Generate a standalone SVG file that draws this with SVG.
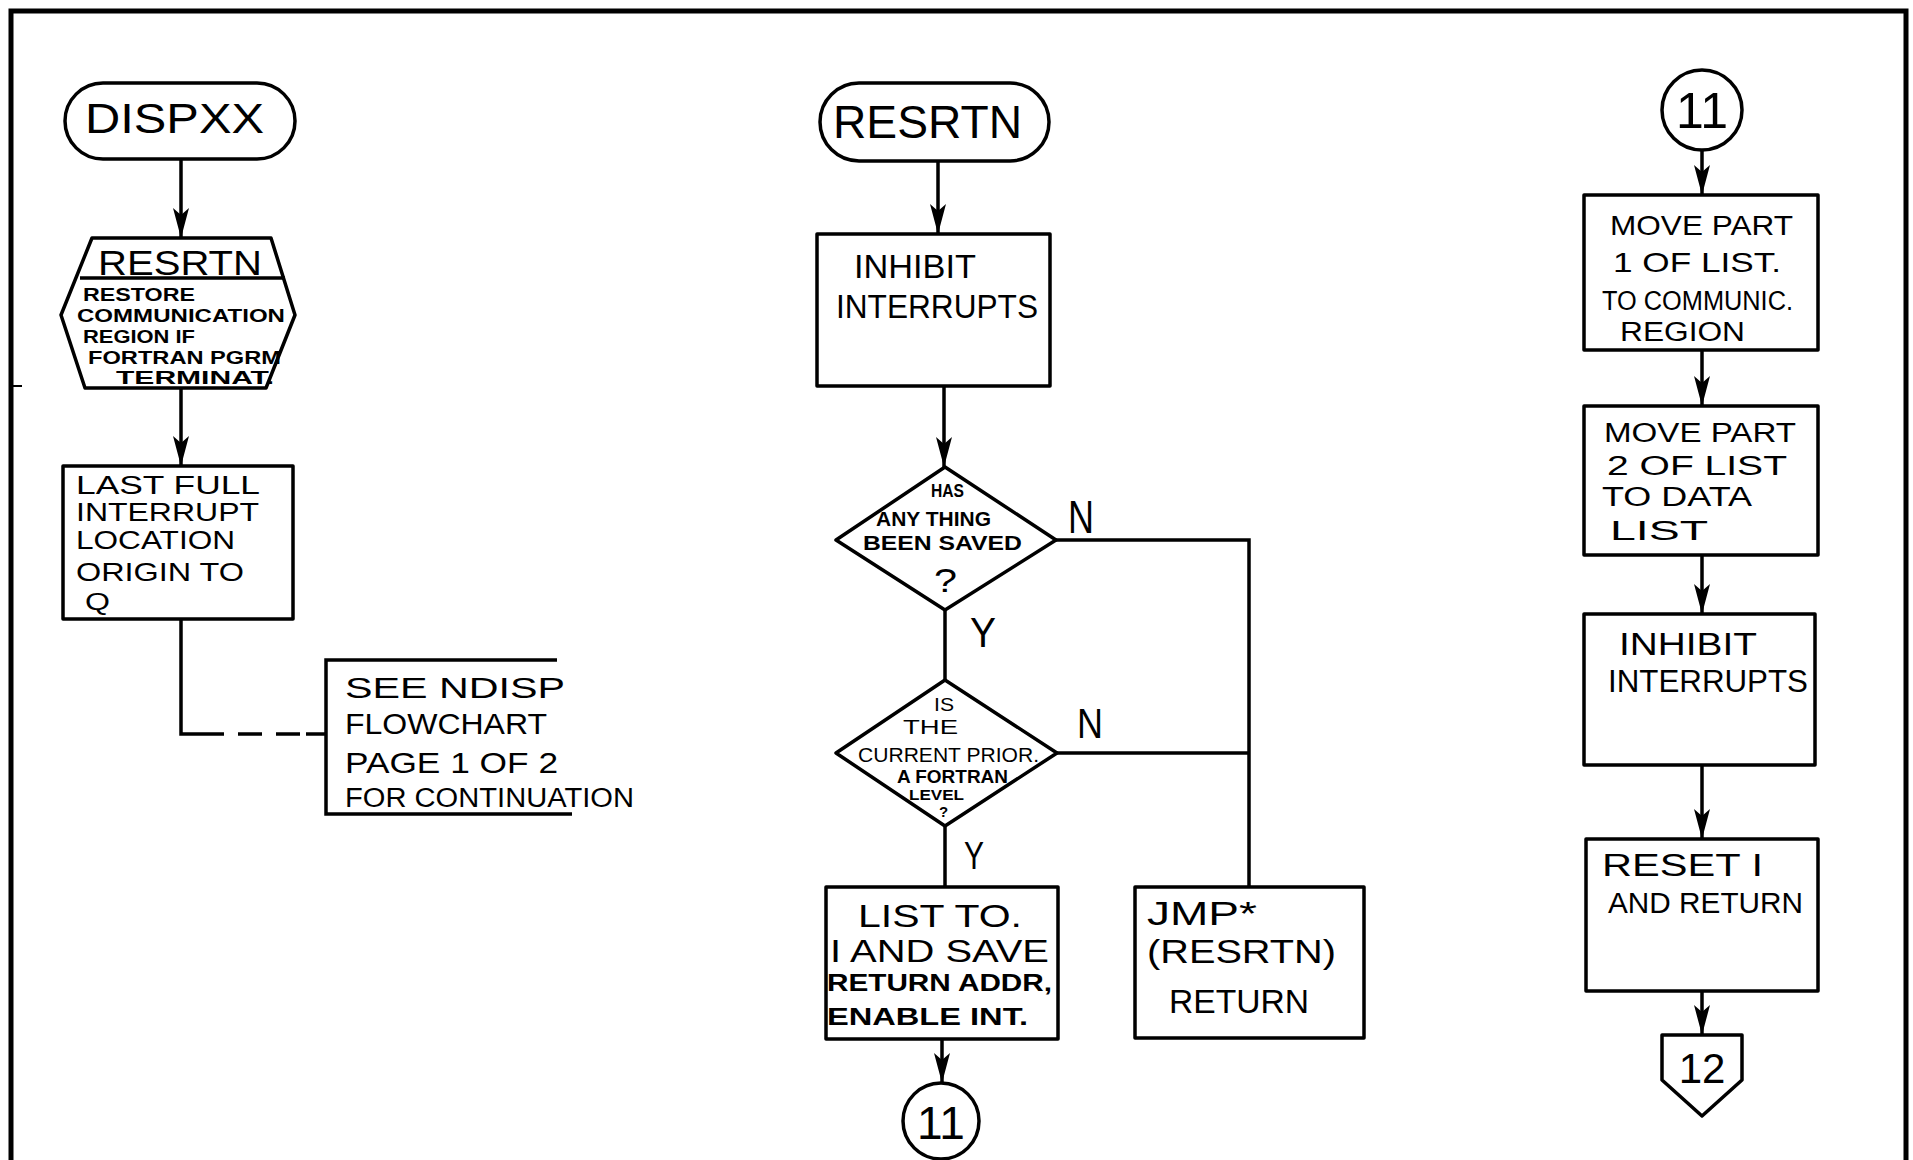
<svg xmlns="http://www.w3.org/2000/svg" width="1913" height="1160" viewBox="0 0 1913 1160">
<defs>
<marker id="ah" viewBox="0 0 30 16" refX="30" refY="8" markerWidth="30" markerHeight="16" markerUnits="userSpaceOnUse" orient="auto">
<path d="M0,0 L30,8 L0,16 L7,8 Z" fill="#000"/>
</marker>
<style>
.s{fill:#fff;stroke:#000;stroke-width:3.5;stroke-linejoin:round}
.l{fill:none;stroke:#000;stroke-width:3.5}
.a{fill:none;stroke:#000;stroke-width:3.5;marker-end:url(#ah)}
.d{fill:none;stroke:#000;stroke-width:3.5;stroke-dasharray:24 14}
.t{font-family:"Liberation Sans",Arial,sans-serif;fill:#000}
.b{font-family:"Liberation Sans",Arial,sans-serif;fill:#000;font-weight:bold}
</style>
</defs>
<rect width="1913" height="1160" fill="#fff"/>
<path class="l" d="M11,1160 L11,11 L1906,11 L1906,1160" style="stroke-width:5"/>
<path class="l" d="M11,386 L22,386" style="stroke-width:2"/>

<g id="connectors">
<path class="a" d="M181,159 L181,238"/>
<path class="a" d="M181,388 L181,466"/>
<path class="l" d="M181,619 L181,734 L200,734"/>
<path class="d" d="M200,734 L310,734"/>
<path class="l" d="M306,734 L326,734"/>
<path class="a" d="M938,161 L938,234"/>
<path class="a" d="M944,386 L944,467"/>
<path class="l" d="M945,610 L945,680"/>
<path class="l" d="M1056,540 L1249,540 L1249,887"/>
<path class="l" d="M1057,753 L1249,753"/>
<path class="l" d="M945,826 L945,887"/>
<path class="a" d="M942,1039 L942,1083"/>
<path class="a" d="M1702,150 L1702,195"/>
<path class="a" d="M1702,350 L1702,406"/>
<path class="a" d="M1702,555 L1702,614"/>
<path class="a" d="M1702,765 L1702,839"/>
<path class="a" d="M1702,991 L1702,1035"/>
</g>

<g id="dispxx">
<rect class="s" x="65" y="83" width="230" height="76" rx="38"/>
<text class="t" x="85" y="133" font-size="43" textLength="179" lengthAdjust="spacingAndGlyphs">DISPXX</text>
</g>

<g id="resrtn-call">
<path class="s" d="M92,238 L271,238 L295,315 L266,388 L85,388 L61,315 Z"/>
<path class="l" d="M80,278 L285,278"/>
<text class="t" x="98" y="275" font-size="35" textLength="164" lengthAdjust="spacingAndGlyphs">RESRTN</text>
<text class="b" x="83" y="301" font-size="18" textLength="112" lengthAdjust="spacingAndGlyphs">RESTORE</text>
<text class="b" x="77" y="322" font-size="18" textLength="208" lengthAdjust="spacingAndGlyphs">COMMUNICATION</text>
<text class="b" x="83" y="343" font-size="18" textLength="112" lengthAdjust="spacingAndGlyphs">REGION IF</text>
<text class="b" x="88" y="364" font-size="18" textLength="193" lengthAdjust="spacingAndGlyphs">FORTRAN PGRM</text>
<text class="b" x="116" y="384" font-size="18" textLength="158" lengthAdjust="spacingAndGlyphs">TERMINAT.</text>
</g>

<g id="last-full">
<rect class="s" x="63" y="466" width="230" height="153"/>
<text class="t" x="76" y="494" font-size="25" textLength="184" lengthAdjust="spacingAndGlyphs">LAST FULL</text>
<text class="t" x="76" y="521" font-size="25" textLength="183" lengthAdjust="spacingAndGlyphs">INTERRUPT</text>
<text class="t" x="76" y="549" font-size="25" textLength="159" lengthAdjust="spacingAndGlyphs">LOCATION</text>
<text class="t" x="76" y="581" font-size="25" textLength="168" lengthAdjust="spacingAndGlyphs">ORIGIN TO</text>
<text class="t" x="85" y="610" font-size="24" textLength="25" lengthAdjust="spacingAndGlyphs">Q</text>
</g>

<g id="see-ndisp">
<path class="l" d="M557,660 L326,660 L326,814 L572,814"/>
<text class="t" x="345" y="698" font-size="30" textLength="220" lengthAdjust="spacingAndGlyphs">SEE NDISP</text>
<text class="t" x="345" y="734" font-size="30" textLength="202" lengthAdjust="spacingAndGlyphs">FLOWCHART</text>
<text class="t" x="345" y="773" font-size="29" textLength="213" lengthAdjust="spacingAndGlyphs">PAGE 1 OF 2</text>
<text class="t" x="345" y="807" font-size="27" textLength="289" lengthAdjust="spacingAndGlyphs">FOR CONTINUATION</text>
</g>

<g id="resrtn">
<rect class="s" x="820" y="83" width="229" height="78" rx="39"/>
<text class="t" x="833" y="138" font-size="46" textLength="189" lengthAdjust="spacingAndGlyphs">RESRTN</text>
</g>

<g id="inhibit-1">
<rect class="s" x="817" y="234" width="233" height="152"/>
<text class="t" x="854" y="278" font-size="33" textLength="122" lengthAdjust="spacingAndGlyphs">INHIBIT</text>
<text class="t" x="836" y="318" font-size="33" textLength="202" lengthAdjust="spacingAndGlyphs">INTERRUPTS</text>
</g>

<g id="saved">
<path class="s" d="M945,467 L1056,540 L945,610 L836,540 Z"/>
<text class="b" x="931" y="497" font-size="18" textLength="33" lengthAdjust="spacingAndGlyphs">HAS</text>
<text class="b" x="876" y="526" font-size="21" textLength="115" lengthAdjust="spacingAndGlyphs">ANY THING</text>
<text class="b" x="863" y="550" font-size="21" textLength="159" lengthAdjust="spacingAndGlyphs">BEEN SAVED</text>
<text class="t" x="934" y="592" font-size="34" textLength="23" lengthAdjust="spacingAndGlyphs">?</text>
</g>
<text class="t" x="1068" y="533" font-size="46" textLength="26" lengthAdjust="spacingAndGlyphs">N</text>
<text class="t" x="970" y="647" font-size="42" textLength="26" lengthAdjust="spacingAndGlyphs">Y</text>

<g id="fortran-level">
<path class="s" d="M945,680 L1057,753 L945,826 L836,753 Z"/>
<text class="t" x="934" y="711" font-size="19" textLength="20" lengthAdjust="spacingAndGlyphs">IS</text>
<text class="t" x="903" y="734" font-size="20" textLength="55" lengthAdjust="spacingAndGlyphs">THE</text>
<text class="t" x="858" y="762" font-size="20" textLength="181" lengthAdjust="spacingAndGlyphs">CURRENT PRIOR.</text>
<text class="b" x="897" y="783" font-size="18" textLength="111" lengthAdjust="spacingAndGlyphs">A FORTRAN</text>
<text class="b" x="909" y="800" font-size="15" textLength="55" lengthAdjust="spacingAndGlyphs">LEVEL</text>
<text class="b" x="939" y="817" font-size="15">?</text>
</g>
<text class="t" x="1077" y="738" font-size="42" textLength="26" lengthAdjust="spacingAndGlyphs">N</text>
<text class="t" x="964" y="869" font-size="38" textLength="20" lengthAdjust="spacingAndGlyphs">Y</text>

<g id="list-to-i">
<rect class="s" x="826" y="887" width="232" height="152"/>
<text class="t" x="858" y="927" font-size="32" textLength="164" lengthAdjust="spacingAndGlyphs">LIST TO.</text>
<text class="t" x="830" y="962" font-size="32" textLength="219" lengthAdjust="spacingAndGlyphs">I AND SAVE</text>
<text class="b" x="827" y="991" font-size="23" textLength="225" lengthAdjust="spacingAndGlyphs">RETURN ADDR,</text>
<text class="b" x="827" y="1025" font-size="24" textLength="201" lengthAdjust="spacingAndGlyphs">ENABLE INT.</text>
</g>

<g id="conn-11-out">
<ellipse class="s" cx="941" cy="1121" rx="38" ry="38"/>
<text class="t" x="941" y="1139" font-size="46" text-anchor="middle">11</text>
</g>

<g id="jmp">
<rect class="s" x="1135" y="887" width="229" height="151"/>
<text class="t" x="1147" y="925" font-size="33" textLength="110" lengthAdjust="spacingAndGlyphs">JMP*</text>
<text class="t" x="1147" y="963" font-size="34" textLength="189" lengthAdjust="spacingAndGlyphs">(RESRTN)</text>
<text class="t" x="1169" y="1013" font-size="33" textLength="140" lengthAdjust="spacingAndGlyphs">RETURN</text>
</g>

<g id="conn-11-in">
<circle class="s" cx="1702" cy="110" r="40"/>
<text class="t" x="1702" y="128" font-size="50" text-anchor="middle">11</text>
</g>

<g id="move-part-1">
<rect class="s" x="1584" y="195" width="234" height="155"/>
<text class="t" x="1610" y="235" font-size="28" textLength="183" lengthAdjust="spacingAndGlyphs">MOVE PART</text>
<text class="t" x="1613" y="272" font-size="28" textLength="168" lengthAdjust="spacingAndGlyphs">1 OF LIST.</text>
<text class="t" x="1602" y="310" font-size="27" textLength="191" lengthAdjust="spacingAndGlyphs">TO COMMUNIC.</text>
<text class="t" x="1620" y="341" font-size="27" textLength="125" lengthAdjust="spacingAndGlyphs">REGION</text>
</g>

<g id="move-part-2">
<rect class="s" x="1584" y="406" width="234" height="149"/>
<text class="t" x="1604" y="442" font-size="27" textLength="192" lengthAdjust="spacingAndGlyphs">MOVE PART</text>
<text class="t" x="1607" y="475" font-size="27" textLength="180" lengthAdjust="spacingAndGlyphs">2 OF LIST</text>
<text class="t" x="1602" y="506" font-size="27" textLength="150" lengthAdjust="spacingAndGlyphs">TO DATA</text>
<text class="t" x="1610" y="540" font-size="28" textLength="98" lengthAdjust="spacingAndGlyphs">LIST</text>
</g>

<g id="inhibit-2">
<rect class="s" x="1584" y="614" width="231" height="151"/>
<text class="t" x="1619" y="655" font-size="31" textLength="138" lengthAdjust="spacingAndGlyphs">INHIBIT</text>
<text class="t" x="1608" y="692" font-size="31" textLength="200" lengthAdjust="spacingAndGlyphs">INTERRUPTS</text>
</g>

<g id="reset-i">
<rect class="s" x="1586" y="839" width="232" height="152"/>
<text class="t" x="1602" y="876" font-size="31" textLength="161" lengthAdjust="spacingAndGlyphs">RESET I</text>
<text class="t" x="1608" y="913" font-size="29" textLength="195" lengthAdjust="spacingAndGlyphs">AND RETURN</text>
</g>

<g id="conn-12">
<path class="s" d="M1662,1035 L1742,1035 L1742,1080 L1702,1116 L1662,1080 Z"/>
<text class="t" x="1702" y="1083" font-size="42" text-anchor="middle">12</text>
</g>
</svg>
